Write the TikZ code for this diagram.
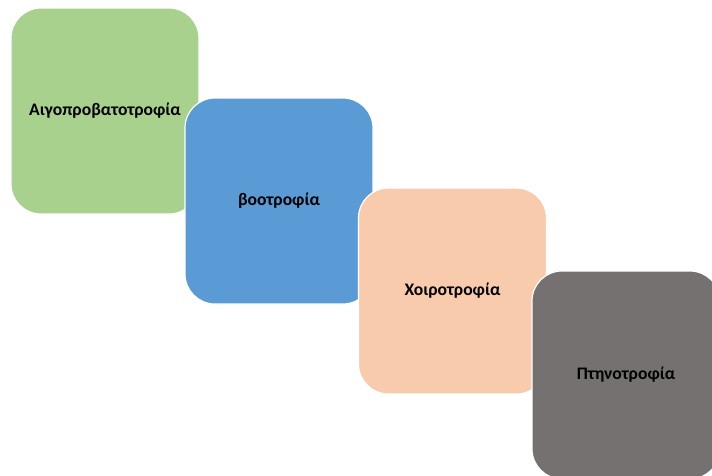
\documentclass[tikz,border=0pt]{standalone}
\usepackage{fontspec}
\setmainfont{Carlito}
\usepackage{tikz}

\definecolor{goatgreen}{HTML}{A9D18E}
\definecolor{cowblue}{HTML}{5B9BD5}
\definecolor{pigpeach}{HTML}{F8CBAD}
\definecolor{birdgray}{HTML}{767171}

\tikzset{
	farmbox/.style={draw=white, line width=1.2pt, rounded corners=30pt,
		minimum width=188pt, minimum height=206pt, inner sep=0pt,
		font=\fontsize{17.6}{20}\selectfont\bfseries, text=black}
}

\begin{document}
\begin{tikzpicture}[x=1pt, y=-1pt]
	
	%\draw[help lines] (0,0) grid (712,475);
	\useasboundingbox (0,0) rectangle (712,475);
	
	\node[farmbox, fill=goatgreen] (goat) at (105, 111) {Αιγοπροβατοτροφία}; % 1
	
	\node[farmbox, fill=cowblue] (cow) at (279, 201) {βοοτροφία}; % 2
	
	\node[farmbox, fill=pigpeach] (pig) at (452.5, 291) {Χοιροτροφία}; % 3
	
	\node[farmbox, fill=birdgray, minimum height=208pt] (bird) at (626, 375) {Πτηνοτροφία}; % 4

\end{tikzpicture}
\end{document}
